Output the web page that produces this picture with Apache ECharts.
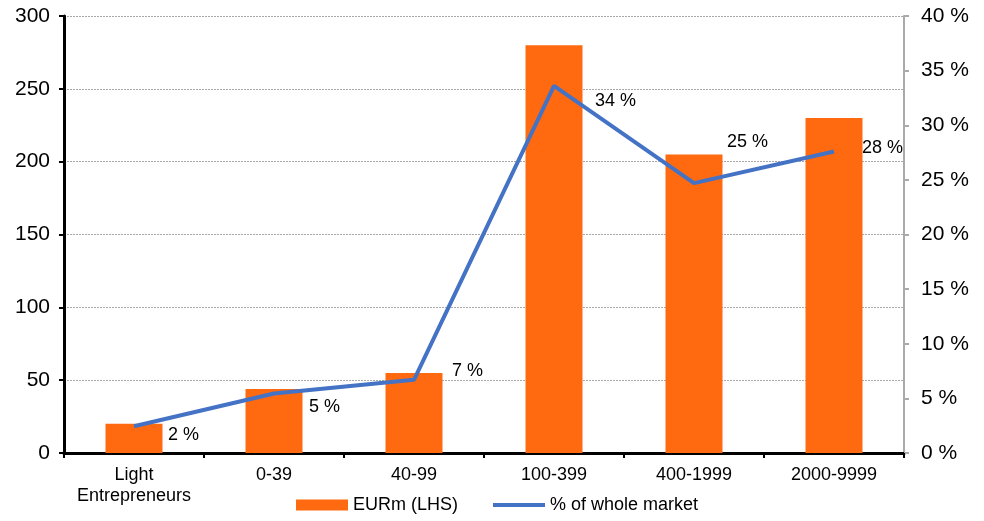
<!DOCTYPE html>
<html>
<head>
<meta charset="utf-8">
<script src="https://cdn.jsdelivr.net/npm/echarts@6/dist/echarts.min.js"></script>
<style>html,body{margin:0;padding:0;background:#fff}#c{width:984px;height:521px}</style>
</head>
<body>
<div id="c"></div>
<script>
const categories = ['Light\nEntrepreneurs', '0-39', '40-99', '100-399', '400-1999', '2000-9999'];
const eurValues = [20, 44, 55, 280, 205, 230];
const marketShare = [2.45, 5.45, 6.7, 33.6, 24.7, 27.6];
const leftTicks = { min: 0, max: 300, interval: 50 };
const rightTicks = { min: 0, max: 40, interval: 5 };

const labelOffsets = [[34, 9], [35, 14], [38, -9], [41, 15], [33, -41], [28, -3]];
const font = 'Liberation Sans, Arial, sans-serif';

const chart = echarts.init(document.getElementById('c'));
chart.setOption({
  animation: false,
  grid: { left: 64, right: 80, top: 16, bottom: 68 },
  legend: {
    bottom: 2, left: 291, itemGap: 35, itemWidth: 52, itemHeight: 11,
    textStyle: { fontFamily: font, fontSize: 18, color: '#000' },
    data: [
      { name: 'EURm (LHS)', icon: 'rect' },
      { name: '% of whole market', icon: 'path://M0,0H52V4H0Z' }
    ]
  },
  xAxis: {
    type: 'category', data: categories, boundaryGap: true,
    axisLine: { lineStyle: { color: '#000', width: 3 } },
    axisTick: { show: true, length: 5, lineStyle: { color: '#000', width: 2 } },
    axisLabel: { fontFamily: font, fontSize: 18, color: '#000', margin: 12, lineHeight: 21, interval: 0 }
  },
  yAxis: [{
    type: 'value', min: leftTicks.min, max: leftTicks.max, interval: leftTicks.interval, position: 'left',
    axisLine: { show: true, lineStyle: { color: '#000', width: 3 } },
    axisTick: { show: true, length: 5, lineStyle: { color: '#000', width: 2 } },
    axisLabel: { fontFamily: font, fontSize: 21, color: '#000', margin: 14 },
    splitLine: { show: true, lineStyle: { color: '#a8a8a8', type: [2, 1], width: 1 } }
  }, {
    type: 'value', min: rightTicks.min, max: rightTicks.max, interval: rightTicks.interval, position: 'right',
    axisLine: { show: true, lineStyle: { color: '#aaaaaa', width: 2 } },
    axisTick: { show: true, length: 5, lineStyle: { color: '#aaaaaa', width: 2 } },
    axisLabel: { fontFamily: font, fontSize: 21, color: '#000', margin: 17, formatter: v => v + ' %' },
    splitLine: { show: false }
  }],
  series: [{
    name: 'EURm (LHS)', type: 'bar', yAxisIndex: 0, data: eurValues,
    barWidth: 57, itemStyle: { color: '#FF6A10' }
  }, {
    name: '% of whole market', type: 'line', yAxisIndex: 1,
    symbol: 'circle', symbolSize: 0, showSymbol: true,
    lineStyle: { color: '#4472C4', width: 4 }, itemStyle: { color: '#4472C4' },
    data: marketShare.map((v, i) => ({
      value: v,
      label: {
        show: true, position: 'right', distance: 0, offset: labelOffsets[i],
        formatter: p => Math.round(p.value) + ' %',
        fontFamily: font, fontSize: 18, color: '#000'
      }
    }))
  }]
});
</script>
</body>
</html>
